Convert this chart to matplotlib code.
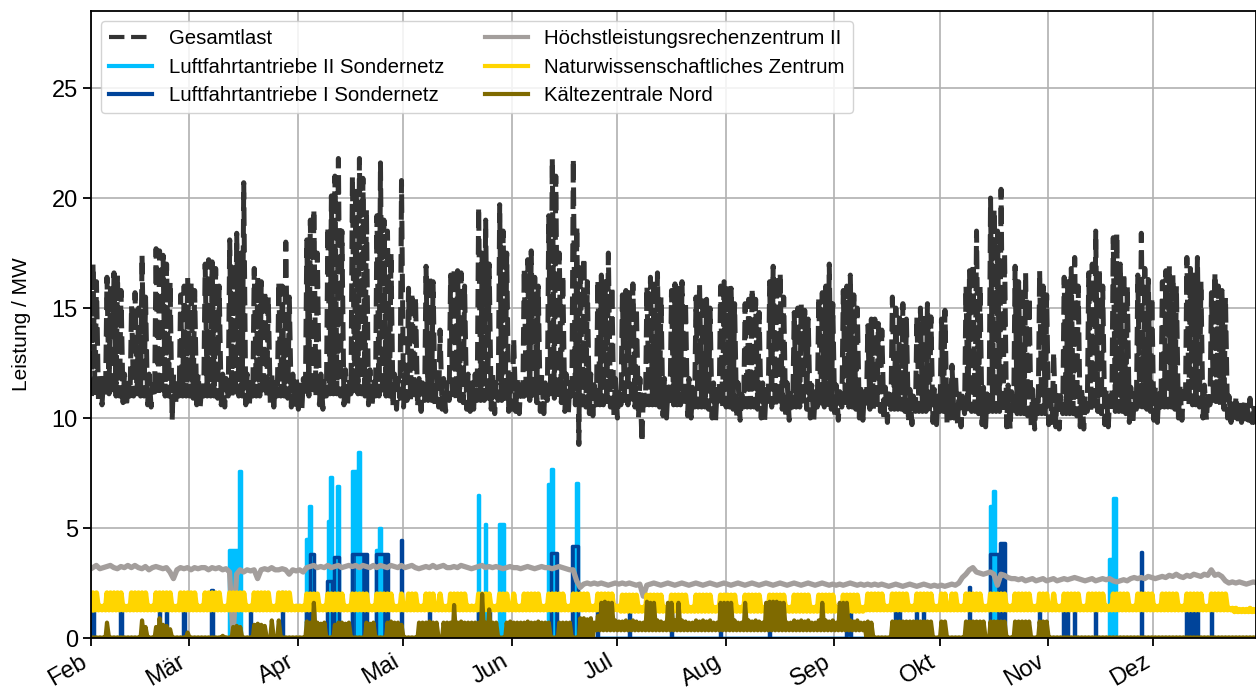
import numpy as np
import pandas as pd
import matplotlib
matplotlib.use('Agg')
import matplotlib.pyplot as plt

plt.rcParams['font.family'] = ['Liberation Sans', 'DejaVu Sans']

# Tage 01.02.2018 - 31.12.2018, eine Zeile = eine Woche (Mo-So), erste Zeile ab Do 01.02.
tage = pd.date_range('2018-02-01', '2018-12-31', freq='D')

# Gesamtlast: Tagesmaximum (MW)
gesamt_max = [
    [17.0, 16.2, 12.0, 11.8],
    [16.4, 16.0, 16.6, 16.5, 15.8, 12.0, 11.8],
    [15.1, 15.7, 15.0, 17.4, 15.5, 12.0, 11.5],
    [17.7, 17.6, 17.4, 17.0, 16.2, 12.0, 11.8],
    [15.6, 16.0, 16.4, 16.2, 15.8, 12.0, 11.5],
    [17.0, 17.2, 17.1, 16.8, 16.0, 12.0, 11.8],
    [18.1, 17.0, 18.4, 17.5, 20.7, 12.0, 11.8],
    [16.8, 16.4, 16.2, 15.8, 15.5, 12.0, 11.6],
    [16.2, 16.0, 18.0, 15.5, 12.0, 11.8, 11.5],
    [11.8, 18.1, 19.0, 19.5, 17.5, 12.0, 11.8],
    [18.7, 20.1, 21.0, 21.8, 18.5, 12.2, 11.8],
    [21.0, 20.5, 21.8, 20.9, 19.5, 12.2, 11.8],
    [19.2, 21.6, 19.0, 18.5, 17.5, 12.0, 11.8],
    [20.8, 12.0, 15.9, 15.7, 15.5, 11.8, 11.6],
    [16.9, 16.5, 16.2, 12.0, 14.0, 11.8, 11.6],
    [16.5, 16.8, 16.7, 16.6, 16.0, 12.0, 11.6],
    [12.0, 19.6, 17.5, 19.0, 17.0, 12.0, 11.6],
    [19.7, 18.5, 17.5, 12.0, 13.6, 11.8, 11.5],
    [16.8, 17.2, 17.6, 16.4, 16.0, 12.0, 11.6],
    [19.2, 21.8, 21.0, 17.5, 16.5, 12.0, 11.6],
    [21.8, 18.7, 17.0, 17.3, 16.2, 12.0, 11.5],
    [16.3, 16.5, 16.2, 17.5, 16.0, 11.8, 11.4],
    [15.6, 15.8, 15.7, 16.1, 15.0, 11.8, 11.3],
    [16.0, 16.4, 16.3, 16.6, 15.5, 11.8, 11.4],
    [15.8, 16.1, 15.9, 16.2, 15.3, 11.8, 11.4],
    [15.5, 16.1, 15.6, 15.4, 15.0, 11.6, 11.3],
    [16.0, 16.2, 16.0, 15.9, 15.2, 11.6, 11.3],
    [15.2, 15.4, 15.9, 15.4, 14.8, 11.6, 11.3],
    [16.2, 16.9, 16.5, 16.6, 15.5, 11.6, 11.3],
    [14.8, 15.0, 15.2, 14.9, 14.5, 11.5, 11.2],
    [15.5, 15.7, 16.0, 17.0, 15.2, 11.5, 11.2],
    [15.8, 16.0, 16.5, 15.6, 15.0, 11.5, 11.2],
    [14.2, 14.5, 14.5, 14.3, 14.0, 11.4, 11.1],
    [15.5, 15.0, 14.8, 15.2, 14.5, 11.3, 11.0],
    [14.6, 15.0, 14.8, 15.2, 14.6, 11.3, 11.0],
    [14.5, 14.9, 11.4, 12.4, 12.0, 11.2, 11.0],
    [16.0, 16.7, 17.0, 18.5, 16.0, 11.4, 11.1],
    [20.0, 19.5, 18.5, 20.4, 17.5, 11.5, 11.2],
    [16.9, 16.2, 16.0, 16.6, 15.5, 11.3, 11.0],
    [16.7, 16.0, 15.6, 11.4, 13.0, 11.2, 11.0],
    [16.4, 16.2, 16.8, 17.3, 16.0, 11.3, 11.0],
    [16.6, 17.0, 18.5, 16.8, 16.0, 11.3, 11.0],
    [18.2, 18.4, 17.0, 16.6, 16.0, 11.4, 11.1],
    [16.5, 18.4, 16.8, 16.3, 15.5, 11.4, 11.1],
    [16.2, 16.7, 16.9, 16.5, 16.0, 11.5, 11.2],
    [17.3, 16.8, 16.5, 17.3, 16.2, 11.5, 11.2],
    [15.7, 16.6, 16.0, 15.8, 15.5, 11.0, 10.8],
    [11.0, 10.8, 10.6, 10.8, 10.9, 10.6, 10.5],
    [10.6],
]

# Gesamtlast: Nachtminimum (MW)
gesamt_min = [
    [11.0, 11.0, 10.7, 10.6],
    [11.0, 11.1, 11.0, 11.0, 11.0, 10.7, 10.5],
    [11.0, 11.0, 11.1, 11.0, 11.0, 10.6, 10.5],
    [11.0, 11.0, 11.0, 11.0, 11.0, 9.9, 10.6],
    [11.0, 11.0, 11.0, 11.0, 10.9, 10.6, 10.5],
    [11.0, 11.0, 11.0, 11.0, 10.9, 10.6, 10.5],
    [11.0, 11.0, 11.0, 11.0, 11.0, 10.6, 10.5],
    [11.0, 11.0, 11.0, 11.0, 10.9, 10.6, 10.5],
    [11.0, 11.0, 11.0, 10.9, 10.5, 10.4, 10.4],
    [10.4, 11.0, 11.0, 11.0, 11.0, 10.6, 10.4],
    [11.0, 11.1, 11.1, 11.1, 11.0, 10.6, 10.5],
    [11.1, 11.1, 11.1, 11.1, 11.0, 10.6, 10.5],
    [11.0, 11.0, 11.0, 11.0, 11.0, 10.5, 10.4],
    [10.9, 10.5, 10.8, 10.8, 10.8, 10.5, 10.3],
    [10.8, 10.8, 10.8, 10.5, 10.5, 10.4, 10.3],
    [10.8, 10.8, 10.8, 10.8, 10.7, 10.4, 10.3],
    [10.4, 10.8, 10.8, 10.8, 10.7, 10.4, 10.2],
    [10.8, 10.8, 10.7, 10.3, 10.4, 10.3, 10.2],
    [10.8, 10.8, 10.8, 10.8, 10.7, 10.3, 10.2],
    [10.8, 10.9, 10.9, 10.8, 10.7, 10.3, 10.2],
    [10.8, 10.6, 8.8, 10.6, 10.5, 10.2, 10.1],
    [10.6, 10.6, 10.6, 10.6, 10.5, 10.1, 10.0],
    [10.6, 10.6, 10.6, 10.6, 10.5, 10.0, 8.9],
    [10.6, 10.6, 10.6, 10.6, 10.5, 10.1, 10.0],
    [10.6, 10.6, 10.6, 10.6, 10.5, 10.1, 10.0],
    [10.5, 10.5, 10.5, 10.5, 10.4, 10.0, 9.9],
    [10.5, 10.5, 10.5, 10.5, 10.4, 10.0, 9.9],
    [10.5, 10.5, 10.5, 10.5, 10.4, 10.0, 9.9],
    [10.5, 10.5, 10.5, 10.5, 10.4, 10.0, 9.9],
    [10.5, 10.5, 10.5, 10.5, 10.4, 10.0, 9.9],
    [10.5, 10.5, 10.5, 10.5, 10.4, 10.0, 9.9],
    [10.5, 10.5, 10.5, 10.5, 10.4, 10.0, 9.9],
    [10.4, 10.4, 10.4, 10.4, 10.3, 9.9, 9.8],
    [10.4, 10.4, 10.4, 10.4, 10.3, 9.8, 9.7],
    [10.3, 10.3, 10.3, 10.3, 10.2, 9.8, 9.7],
    [10.3, 10.3, 9.8, 10.0, 10.0, 9.7, 9.6],
    [10.2, 10.3, 10.3, 10.3, 10.2, 9.7, 9.6],
    [10.3, 10.3, 10.3, 10.3, 10.2, 9.6, 9.5],
    [10.2, 10.2, 10.2, 10.2, 10.1, 9.6, 9.5],
    [10.2, 10.2, 10.2, 9.7, 9.8, 9.6, 9.5],
    [10.2, 10.2, 10.2, 10.2, 10.1, 9.6, 9.5],
    [10.3, 10.3, 10.3, 10.3, 10.2, 9.7, 9.6],
    [10.3, 10.3, 10.3, 10.3, 10.2, 9.8, 9.7],
    [10.4, 10.4, 10.4, 10.4, 10.3, 9.9, 9.8],
    [10.5, 10.5, 10.5, 10.5, 10.4, 10.0, 9.9],
    [10.6, 10.6, 10.6, 10.6, 10.5, 10.0, 9.9],
    [10.6, 10.6, 10.6, 10.6, 10.4, 10.0, 9.8],
    [9.8, 9.7, 9.8, 9.8, 9.9, 9.8, 9.7],
    [9.8],
]

# Höchstleistungsrechenzentrum II: Tageswert (MW)
hlrs = [
    [3.2, 3.3, 3.15, 3.2],
    [3.25, 3.3, 3.2, 3.15, 3.25, 3.2, 3.3],
    [3.2, 3.3, 3.2, 3.15, 3.25, 3.1, 3.2],
    [3.25, 3.2, 3.15, 3.2, 3.0, 2.7, 3.1],
    [3.2, 3.15, 3.2, 3.1, 3.2, 3.15, 3.2],
    [3.2, 3.1, 3.2, 3.15, 3.2, 3.1, 3.15],
    [3.0, 0.1, 2.9, 3.1, 3.0, 3.1, 3.05],
    [3.1, 2.7, 3.1, 3.15, 3.1, 3.2, 3.1],
    [3.1, 3.15, 3.1, 2.9, 3.1, 3.05, 3.1],
    [3.0, 3.2, 3.25, 3.3, 3.2, 3.25, 3.2],
    [3.3, 3.2, 3.25, 3.3, 3.2, 3.25, 3.3],
    [3.25, 3.3, 3.2, 3.3, 3.25, 3.2, 3.3],
    [3.2, 3.3, 3.25, 3.2, 3.3, 3.25, 3.2],
    [3.3, 3.2, 3.25, 3.3, 3.2, 3.15, 3.2],
    [3.25, 3.2, 3.3, 3.2, 3.25, 3.3, 3.2],
    [3.2, 3.25, 3.2, 3.3, 3.25, 3.2, 3.15],
    [3.2, 3.25, 3.3, 3.2, 3.25, 3.2, 3.25],
    [3.2, 3.15, 3.2, 3.25, 3.2, 3.2, 3.15],
    [3.2, 3.25, 3.2, 3.15, 3.2, 3.25, 3.2],
    [3.2, 3.15, 3.2, 3.25, 3.2, 3.15, 3.1],
    [3.1, 2.6, 2.3, 2.45, 2.5, 2.45, 2.5],
    [2.45, 2.5, 2.45, 2.4, 2.45, 2.5, 2.45],
    [2.5, 2.45, 2.5, 2.45, 2.4, 2.45, 1.9],
    [2.4, 2.45, 2.5, 2.45, 2.4, 2.45, 2.5],
    [2.45, 2.4, 2.45, 2.5, 2.45, 2.4, 2.45],
    [2.5, 2.45, 2.4, 2.45, 2.5, 2.45, 2.4],
    [2.45, 2.5, 2.45, 2.4, 2.45, 2.5, 2.45],
    [2.4, 2.45, 2.5, 2.45, 2.4, 2.45, 2.5],
    [2.45, 2.4, 2.45, 2.5, 2.45, 2.4, 2.45],
    [2.5, 2.45, 2.4, 2.45, 2.5, 2.45, 2.4],
    [2.45, 2.5, 2.45, 2.4, 2.45, 2.4, 2.45],
    [2.4, 2.45, 2.5, 2.45, 2.4, 2.45, 2.4],
    [2.45, 2.4, 2.45, 2.4, 2.45, 2.4, 2.35],
    [2.4, 2.45, 2.4, 2.35, 2.4, 2.45, 2.4],
    [2.35, 2.4, 2.45, 2.4, 2.35, 2.4, 2.35],
    [2.4, 2.35, 2.4, 2.45, 2.4, 2.5, 2.75],
    [2.9, 3.1, 3.2, 3.0, 2.95, 2.9, 2.95],
    [3.0, 2.9, 2.4, 2.9, 2.85, 2.75, 2.7],
    [2.7, 2.65, 2.7, 2.6, 2.65, 2.7, 2.6],
    [2.65, 2.7, 2.6, 2.65, 2.7, 2.6, 2.65],
    [2.7, 2.65, 2.7, 2.75, 2.7, 2.65, 2.6],
    [2.65, 2.7, 2.6, 2.65, 2.7, 2.65, 2.7],
    [2.6, 2.55, 2.6, 2.65, 2.6, 2.7, 2.75],
    [2.7, 2.75, 2.7, 2.8, 2.75, 2.7, 2.75],
    [2.8, 2.75, 2.85, 2.8, 2.9, 2.8, 2.75],
    [2.85, 2.8, 2.9, 2.85, 2.8, 2.9, 2.85],
    [3.1, 2.85, 2.9, 2.8, 2.6, 2.5, 2.55],
    [2.5, 2.55, 2.5, 2.45, 2.5, 2.55, 2.5],
    [2.5],
]

# Naturwissenschaftliches Zentrum: Tagesmaximum (MW)
nwz_max = [
    [2.05, 2.05, 1.45, 1.45],
    [2.05, 2.05, 2.05, 2.05, 2.05, 1.45, 1.45],
    [2.05, 2.05, 2.05, 2.05, 2.05, 1.45, 1.45],
    [2.05, 2.05, 2.05, 2.05, 2.05, 1.45, 1.45],
    [2.05, 2.05, 2.05, 2.05, 2.05, 1.45, 1.45],
    [2.05, 2.05, 2.05, 2.05, 2.05, 1.45, 1.45],
    [2.05, 2.05, 2.05, 2.05, 2.05, 1.45, 1.45],
    [2.05, 2.05, 2.05, 2.05, 2.05, 1.45, 1.45],
    [2.05, 2.05, 2.05, 2.05, 1.45, 1.45, 1.45],
    [1.45, 2.0, 2.0, 2.0, 2.0, 1.45, 1.45],
    [2.0, 2.0, 2.0, 2.0, 2.0, 1.45, 1.45],
    [2.0, 2.0, 2.0, 2.0, 2.0, 1.45, 1.45],
    [2.0, 2.0, 2.0, 2.0, 2.0, 1.45, 1.45],
    [2.0, 1.45, 2.0, 2.0, 2.0, 1.45, 1.45],
    [2.0, 2.0, 2.0, 1.45, 2.0, 1.45, 1.45],
    [2.0, 2.0, 2.0, 2.0, 2.0, 1.45, 1.45],
    [1.45, 2.0, 2.0, 2.0, 2.0, 1.45, 1.45],
    [2.0, 2.0, 2.0, 1.45, 2.0, 1.45, 1.45],
    [2.0, 2.0, 2.0, 2.0, 2.0, 1.45, 1.45],
    [2.0, 2.0, 2.0, 2.0, 2.0, 1.45, 1.45],
    [2.0, 2.0, 2.0, 2.0, 2.0, 1.45, 1.45],
    [2.0, 2.0, 2.0, 2.0, 2.0, 1.45, 1.45],
    [1.95, 1.95, 1.95, 1.95, 1.95, 1.4, 1.4],
    [1.95, 1.95, 1.95, 1.95, 1.95, 1.4, 1.4],
    [1.95, 1.95, 1.95, 1.95, 1.95, 1.4, 1.4],
    [1.95, 1.95, 1.95, 1.95, 1.95, 1.4, 1.4],
    [1.95, 1.95, 1.95, 1.95, 1.95, 1.4, 1.4],
    [1.95, 1.95, 1.95, 1.95, 1.95, 1.4, 1.4],
    [1.95, 1.95, 1.95, 1.95, 1.95, 1.4, 1.4],
    [1.95, 1.95, 1.95, 1.95, 1.95, 1.4, 1.4],
    [1.95, 1.95, 1.95, 1.95, 1.95, 1.4, 1.4],
    [1.95, 1.95, 1.95, 1.95, 1.95, 1.4, 1.4],
    [2.0, 2.0, 2.0, 2.0, 2.0, 1.45, 1.45],
    [2.0, 2.0, 2.0, 2.0, 2.0, 1.45, 1.45],
    [2.0, 2.0, 2.0, 2.0, 2.0, 1.45, 1.45],
    [2.0, 2.0, 1.45, 2.0, 2.0, 1.45, 1.45],
    [2.0, 2.0, 2.0, 2.0, 2.0, 1.45, 1.45],
    [2.0, 2.0, 2.0, 2.0, 2.0, 1.45, 1.45],
    [2.0, 2.0, 2.0, 2.0, 2.0, 1.45, 1.45],
    [2.0, 2.0, 2.0, 1.45, 2.0, 1.45, 1.45],
    [2.0, 2.0, 2.0, 2.0, 2.0, 1.45, 1.45],
    [2.0, 2.0, 2.0, 2.0, 2.0, 1.45, 1.45],
    [2.0, 2.0, 2.0, 2.0, 2.0, 1.45, 1.45],
    [2.0, 2.0, 2.0, 2.0, 2.0, 1.45, 1.45],
    [2.0, 2.0, 2.0, 2.0, 2.0, 1.45, 1.45],
    [2.0, 2.0, 2.0, 2.0, 2.0, 1.45, 1.45],
    [2.0, 2.0, 2.0, 2.0, 2.0, 1.35, 1.35],
    [1.35, 1.3, 1.3, 1.3, 1.35, 1.3, 1.3],
    [1.3],
]
# Naturwissenschaftliches Zentrum: Nachtminimum je Woche (MW)
nwz_min_woche = [1.28] * 22 + [1.22] * 10 + [1.28] * 15 + [1.2, 1.2]

# Kältezentrale Nord: Tagesmaximum (MW)
kzn_max = [
    [0.03, 0.03, 0.03, 0.03],
    [0.7, 0.03, 0.03, 0.03, 0.03, 0.03, 0.03],
    [0.03, 0.03, 0.03, 0.8, 0.5, 0.03, 0.03],
    [0.5, 0.9, 0.6, 0.55, 0.4, 0.03, 0.03],
    [0.03, 0.03, 0.25, 0.03, 0.03, 0.03, 0.03],
    [0.03, 0.03, 0.03, 0.03, 0.03, 0.1, 0.03],
    [0.03, 0.5, 0.55, 0.5, 0.03, 0.03, 0.03],
    [0.6, 0.65, 0.6, 0.55, 0.03, 0.8, 0.03],
    [0.8, 0.03, 0.03, 0.03, 0.03, 0.03, 0.03],
    [0.03, 0.75, 0.7, 1.6, 0.7, 0.65, 0.7],
    [0.03, 0.03, 0.6, 0.7, 0.7, 0.65, 0.7],
    [0.03, 0.03, 0.03, 0.03, 0.7, 0.65, 0.7],
    [0.03, 0.03, 0.03, 0.7, 0.75, 0.7, 0.7],
    [0.6, 0.03, 0.03, 0.03, 0.03, 0.7, 0.7],
    [0.7, 0.75, 0.7, 0.7, 0.03, 0.7, 0.7],
    [0.7, 1.5, 0.7, 0.75, 0.7, 0.7, 0.7],
    [0.7, 0.7, 2.0, 0.7, 1.3, 0.7, 0.7],
    [0.03, 0.03, 0.7, 0.75, 0.7, 0.7, 0.7],
    [0.7, 0.75, 0.7, 0.7, 0.75, 0.7, 0.7],
    [0.7, 0.03, 0.03, 0.7, 0.7, 0.7, 0.7],
    [0.03, 0.03, 0.9, 0.9, 0.85, 0.9, 0.7],
    [1.0, 1.6, 1.65, 1.6, 1.6, 0.8, 0.75],
    [0.75, 0.8, 0.75, 0.8, 0.75, 0.7, 0.7],
    [1.65, 1.6, 1.6, 0.8, 0.75, 0.7, 1.6],
    [1.6, 0.8, 1.6, 0.8, 0.75, 0.7, 0.7],
    [0.8, 0.75, 0.8, 0.75, 0.8, 0.7, 0.7],
    [1.6, 1.6, 1.6, 1.6, 0.8, 0.7, 0.7],
    [1.6, 0.8, 0.75, 0.8, 0.75, 0.7, 1.6],
    [1.65, 1.65, 1.65, 1.6, 1.6, 0.7, 0.7],
    [0.8, 0.75, 0.8, 0.75, 0.8, 0.7, 0.7],
    [0.8, 1.6, 0.8, 0.75, 0.8, 0.7, 1.6],
    [1.6, 1.6, 0.8, 0.75, 0.8, 0.7, 0.7],
    [0.75, 0.7, 0.03, 0.03, 0.03, 0.03, 0.03],
    [0.75, 0.75, 0.75, 0.75, 0.75, 0.75, 0.75],
    [0.75, 0.75, 0.75, 0.75, 0.75, 0.03, 0.03],
    [0.75, 0.75, 0.03, 0.03, 0.03, 0.03, 0.03],
    [0.75, 0.75, 0.75, 0.75, 0.75, 0.75, 0.03],
    [0.75, 0.75, 0.75, 0.75, 0.75, 0.03, 0.03],
    [0.75, 0.75, 0.75, 0.75, 0.75, 0.03, 0.03],
    [0.75, 0.75, 0.75, 0.03, 0.03, 0.03, 0.03],
    [0.03, 0.03, 0.03, 0.03, 0.03, 0.03, 0.03],
    [0.03, 0.03, 0.03, 0.03, 0.03, 0.03, 0.03],
    [0.03, 0.03, 0.03, 0.03, 0.03, 0.03, 0.03],
    [0.03, 0.03, 0.03, 0.03, 0.03, 0.03, 0.03],
    [0.03, 0.03, 0.03, 0.03, 0.03, 0.03, 0.03],
    [0.03, 0.03, 0.03, 0.03, 0.03, 0.03, 0.03],
    [0.03, 0.03, 0.03, 0.03, 0.03, 0.03, 0.03],
    [0.03, 0.03, 0.03, 0.03, 0.03, 0.03, 0.03],
    [0.03],
]
# Kältezentrale Nord: Nachtminimum je Woche (MW)
kzn_min_woche = [0.0] * 21 + [0.35] * 11 + [0.0] * 17

# Luftfahrtantriebe I Sondernetz: Einsätze (Beginn, Ende, Leistung MW)
la1_beginn = ['2018-02-01 06:00', '2018-02-09 08:00', '2018-02-20 08:00', '2018-02-22 08:00',
              '2018-02-27 08:00', '2018-03-07 08:00', '2018-03-18 08:00', '2018-03-27 08:00',
              '2018-04-03 08:00', '2018-04-04 08:00', '2018-04-09 08:00', '2018-04-11 06:00',
              '2018-04-16 08:00', '2018-04-23 08:00', '2018-04-30 08:00', '2018-05-08 08:00',
              '2018-05-22 08:00', '2018-06-12 06:00', '2018-06-18 06:00', '2018-06-25 08:00',
              '2018-07-04 08:00', '2018-07-16 08:00', '2018-07-30 08:00', '2018-08-13 08:00',
              '2018-09-04 08:00', '2018-09-18 08:00', '2018-09-24 08:00', '2018-09-26 08:00',
              '2018-10-09 08:00', '2018-10-15 06:00', '2018-10-18 06:00', '2018-10-29 08:00',
              '2018-11-05 08:00', '2018-11-08 08:00', '2018-11-14 08:00', '2018-11-27 08:00',
              '2018-12-10 08:00', '2018-12-17 08:00']
la1_ende = ['2018-02-01 18:00', '2018-02-09 18:00', '2018-02-20 16:00', '2018-02-22 16:00',
            '2018-02-27 16:00', '2018-03-07 16:00', '2018-03-18 16:00', '2018-03-27 16:00',
            '2018-04-03 16:00', '2018-04-05 16:00', '2018-04-10 20:00', '2018-04-12 18:00',
            '2018-04-20 16:00', '2018-04-26 16:00', '2018-04-30 18:00', '2018-05-08 16:00',
            '2018-05-25 16:00', '2018-06-13 18:00', '2018-06-19 18:00', '2018-06-25 16:00',
            '2018-07-04 16:00', '2018-07-16 16:00', '2018-07-30 16:00', '2018-08-13 16:00',
            '2018-09-05 16:00', '2018-09-19 16:00', '2018-09-24 16:00', '2018-09-26 16:00',
            '2018-10-09 16:00', '2018-10-18 06:00', '2018-10-19 16:00', '2018-10-29 16:00',
            '2018-11-06 16:00', '2018-11-08 16:00', '2018-11-14 16:00', '2018-11-27 16:00',
            '2018-12-13 16:00', '2018-12-17 16:00']
la1_leistung = [1.3, 1.3, 1.3, 1.3,
                1.3, 2.2, 1.3, 2.1,
                1.3, 3.8, 2.6, 3.7,
                3.8, 3.8, 4.45, 1.3,
                1.5, 3.85, 4.2, 1.3,
                1.3, 1.3, 1.3, 1.3,
                1.3, 1.3, 1.3, 1.3,
                2.3, 3.8, 4.3, 1.3,
                1.3, 1.3, 1.3, 3.9,
                1.3, 1.3]

# Luftfahrtantriebe II Sondernetz: Einsätze (Beginn, Ende, Leistung MW)
la2_beginn = ['2018-03-12 06:00', '2018-03-15 06:00', '2018-04-03 06:00', '2018-04-04 06:00',
              '2018-04-09 12:00', '2018-04-10 06:00', '2018-04-12 06:00', '2018-04-16 12:00',
              '2018-04-18 06:00', '2018-04-23 06:00', '2018-04-24 06:00', '2018-05-22 06:00',
              '2018-05-24 06:00', '2018-05-28 06:00', '2018-06-11 06:00', '2018-06-12 06:00',
              '2018-06-19 06:00', '2018-10-15 06:00', '2018-10-16 06:00', '2018-11-18 06:00',
              '2018-11-19 12:00']
la2_ende = ['2018-03-14 18:00', '2018-03-15 20:00', '2018-04-03 18:00', '2018-04-04 18:00',
            '2018-04-10 00:00', '2018-04-10 20:00', '2018-04-12 18:00', '2018-04-17 20:00',
            '2018-04-18 18:00', '2018-04-23 18:00', '2018-04-24 18:00', '2018-05-22 18:00',
            '2018-05-24 18:00', '2018-05-29 18:00', '2018-06-11 18:00', '2018-06-12 18:00',
            '2018-06-19 18:00', '2018-10-15 18:00', '2018-10-16 18:00', '2018-11-19 12:00',
            '2018-11-20 06:00']
la2_leistung = [4.0, 7.6, 4.5, 6.0,
                5.3, 7.3, 6.9, 7.6,
                8.45, 4.0, 5.0, 6.5,
                5.2, 5.2, 7.0, 7.7,
                7.05, 6.0, 6.7, 3.6,
                6.35]

monate = ['2018-02-01', '2018-03-01', '2018-04-01', '2018-05-01', '2018-06-01', '2018-07-01',
          '2018-08-01', '2018-09-01', '2018-10-01', '2018-11-01', '2018-12-01']
monat_namen = ['Feb', 'Mär', 'Apr', 'Mai', 'Jun', 'Jul', 'Aug', 'Sep', 'Okt', 'Nov', 'Dez']


def tagesverlauf(tmin, tmax):
    # je Tag ein Punkt in der Nacht (Minimum) und einer am Mittag (Maximum)
    x = np.empty(2 * len(tage), dtype='datetime64[ns]')
    y = np.empty(2 * len(tage))
    x[0::2] = (tage + pd.Timedelta(hours=3)).values
    x[1::2] = (tage + pd.Timedelta(hours=13)).values
    y[0::2] = tmin
    y[1::2] = tmax
    return x, y


def einsaetze(beginn, ende, leistung):
    x = [pd.Timestamp('2018-02-01')]
    y = [0.0]
    for b, e, p in zip(beginn, ende, leistung):
        x += [pd.Timestamp(b), pd.Timestamp(b), pd.Timestamp(e), pd.Timestamp(e)]
        y += [0.0, p, p, 0.0]
    x.append(pd.Timestamp('2018-12-31 23:00'))
    y.append(0.0)
    return x, y


wochen_len = [len(w) for w in gesamt_max]
g_max = np.concatenate(gesamt_max)
g_min = np.concatenate(gesamt_min)
hl = np.concatenate(hlrs)
nw_max = np.concatenate(nwz_max)
nw_min = np.repeat(nwz_min_woche, wochen_len)
kz_max = np.concatenate(kzn_max)
kz_min = np.repeat(kzn_min_woche, wochen_len)

fig = plt.figure(figsize=(12.56, 6.95), dpi=100)
ax = fig.add_axes([0.0725, 0.082, 0.9275, 0.902])

x, y = tagesverlauf(g_min, g_max)
ax.plot(x, y, color='#333333', lw=3.6, ls='--', label='Gesamtlast')

x, y = einsaetze(la2_beginn, la2_ende, la2_leistung)
ax.fill(x, y, color='#00bfff', lw=0)
ax.plot(x, y, color='#00bfff', lw=2.5, label='Luftfahrtantriebe II Sondernetz')

x, y = einsaetze(la1_beginn, la1_ende, la1_leistung)
ax.fill(x, y, color='#00449a', lw=0)
ax.plot(x, y, color='#00449a', lw=2.5, label='Luftfahrtantriebe I Sondernetz')

ax.plot(tage + pd.Timedelta(hours=12), hl, color='#a39e9c', lw=3.8,
        label='Höchstleistungsrechenzentrum II')

x, y = tagesverlauf(nw_min, nw_max)
ax.plot(x, y, color='#ffd500', lw=3.8, label='Naturwissenschaftliches Zentrum')

x, y = tagesverlauf(kz_min, kz_max)
ax.plot(x, y, color='#7f6a00', lw=3, label='Kältezentrale Nord')

ax.set_xlim(pd.Timestamp('2018-02-01'), pd.Timestamp('2018-12-30 06:00'))
ax.set_ylim(0, 28.5)
ax.set_yticks([0, 5, 10, 15, 20, 25])
ax.set_xticks([pd.Timestamp(m) for m in monate])
ax.set_xticklabels(monat_namen, rotation=30, ha='right')
ax.tick_params(axis='y', labelsize=17, length=6, width=1.3, direction='out')
ax.tick_params(axis='x', labelsize=17, length=6, width=1.3, direction='out', pad=3)
ax.set_ylabel('Leistung / MW', fontsize=15, labelpad=15)
ax.grid(True, color='#b0b0b0', lw=1.2)
ax.set_axisbelow(True)
for s in ax.spines.values():
    s.set_linewidth(1.3)

leg = ax.legend(loc='upper left', ncol=2, fontsize=14.7, handlelength=2.1,
                columnspacing=2.0, labelspacing=0.45, borderaxespad=0.5, framealpha=0.85)
for l in leg.get_lines():
    l.set_linewidth(3)

fig.savefig('out.png', dpi=100)
